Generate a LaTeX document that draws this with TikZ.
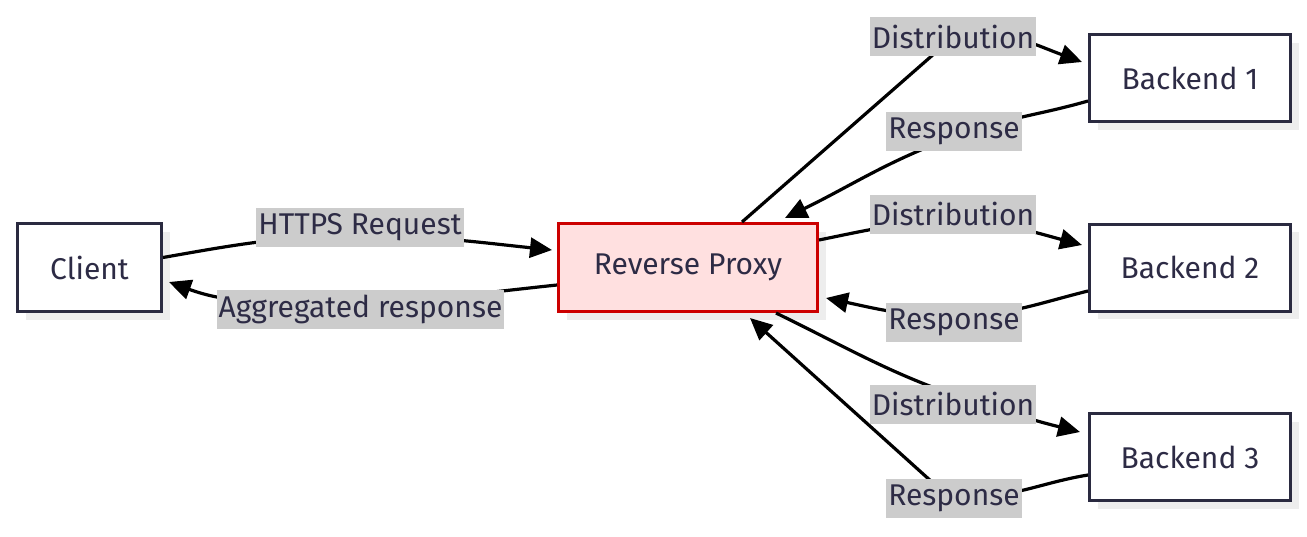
\documentclass[tikz,border=0pt]{standalone}
\usepackage{fontspec}
\setmainfont{Fira Sans}
\usetikzlibrary{arrows.meta,calc,shadows}
\definecolor{txt}{HTML}{2D2B45}
\definecolor{bord}{HTML}{2A2A40}
\definecolor{lblbg}{HTML}{CCCCCC}
\definecolor{pfill}{HTML}{FFE0E0}
\definecolor{pbord}{HTML}{CC0000}
\definecolor{shd}{HTML}{EDEDED}
\begin{document}
\begin{tikzpicture}[x=1pt,y=-1pt,
  box/.style={draw=bord, line width=3pt, fill=white, text=txt,
    font=\fontsize{30}{34}\selectfont, inner sep=0pt,
    drop shadow={shadow xshift=8pt, shadow yshift=-8pt, fill=shd, opacity=1}},
  proxybox/.style={box, draw=pbord, fill=pfill},
  lbl/.style={fill=lblbg, text=txt, font=\fontsize{30}{34}\selectfont,
    inner xsep=2pt, inner ysep=0pt, minimum height=39pt},
  edge/.style={line width=3.2pt, black, -{Triangle[length=22pt,width=20pt]}}]
\useasboundingbox (0,0) rectangle (1307,536);

% nodes
\node[box, minimum width=144pt, minimum height=88pt] (client) at (89.5,267.5) {Client};
\node[proxybox, minimum width=259pt, minimum height=88pt] (proxy) at (688,267.5) {Reverse Proxy};
\node[box, minimum width=201pt, minimum height=87pt] (b1) at (1190,78) {Backend 1};
\node[box, minimum width=201pt, minimum height=87pt] (b2) at (1190,267.5) {Backend 2};
\node[box, minimum width=201pt, minimum height=87pt] (b3) at (1190,457) {Backend 3};

% via points
\coordinate (m1) at (360,236);
\coordinate (m2) at (360,300);
\coordinate (m3) at (935,53);
\coordinate (m4) at (965,133);
\coordinate (m5) at (953,222);
\coordinate (m6) at (953,316);
\coordinate (m7) at (978,403);
\coordinate (m8) at (932,482);

% edges
\draw[edge] ($(client.east)+(0,-10)$) to[out=10,in=180] (m1)
  to[out=0,in=174] ($(proxy.west)+(-5,-17.5)$);
\draw[edge] ($(proxy.west)+(0,17.5)$) to[out=186,in=0] (m2)
  to[out=180,in=-20] ($(client.east)+(6,14.5)$);
\draw[edge] ($(proxy.north)+(54,0)$) -- (m3)
  to[out=41,in=160] ($(b1.west)+(-6,-16)$);
\draw[edge] ($(b1.west)+(0,23)$) to[out=196,in=19] (m4)
  to[out=199,in=26] ($(proxy.north)+(97,-4)$);
\draw[edge] ($(proxy.east)+(0,-27.5)$) to[out=11.5,in=180] (m5)
  to[out=0,in=165] ($(b2.west)+(-6,-22.5)$);
\draw[edge] ($(b2.west)+(0,23.5)$) to[out=194,in=0] (m6)
  to[out=180,in=-12] ($(proxy.east)+(7,30.5)$);
\draw[edge] ($(proxy.south)+(88,0)$) to[out=-26,in=162.4] (m7)
  to[out=-17.6,in=166] ($(b3.west)+(-8,-25)$);
\draw[edge] ($(b3.west)+(0,18)$) to[out=189,in=-30] (m8)
  -- ($(proxy.south)+(62,5)$);

% labels
\node[lbl] (l1) at (360,227.5) {HTTPS Request};
\node[lbl] (l2) at (360.5,309) {Aggregated response};
\node[lbl] (l3) at (953,36.5) {Distribution};
\node[lbl] (l4) at (954,131) {Response};
\node[lbl] (l5) at (953,214) {Distribution};
\node[lbl] (l6) at (954,322.5) {Response};
\node[lbl] (l7) at (953,404) {Distribution};
\node[lbl] (l8) at (954,498) {Response};
\end{tikzpicture}
\end{document}
